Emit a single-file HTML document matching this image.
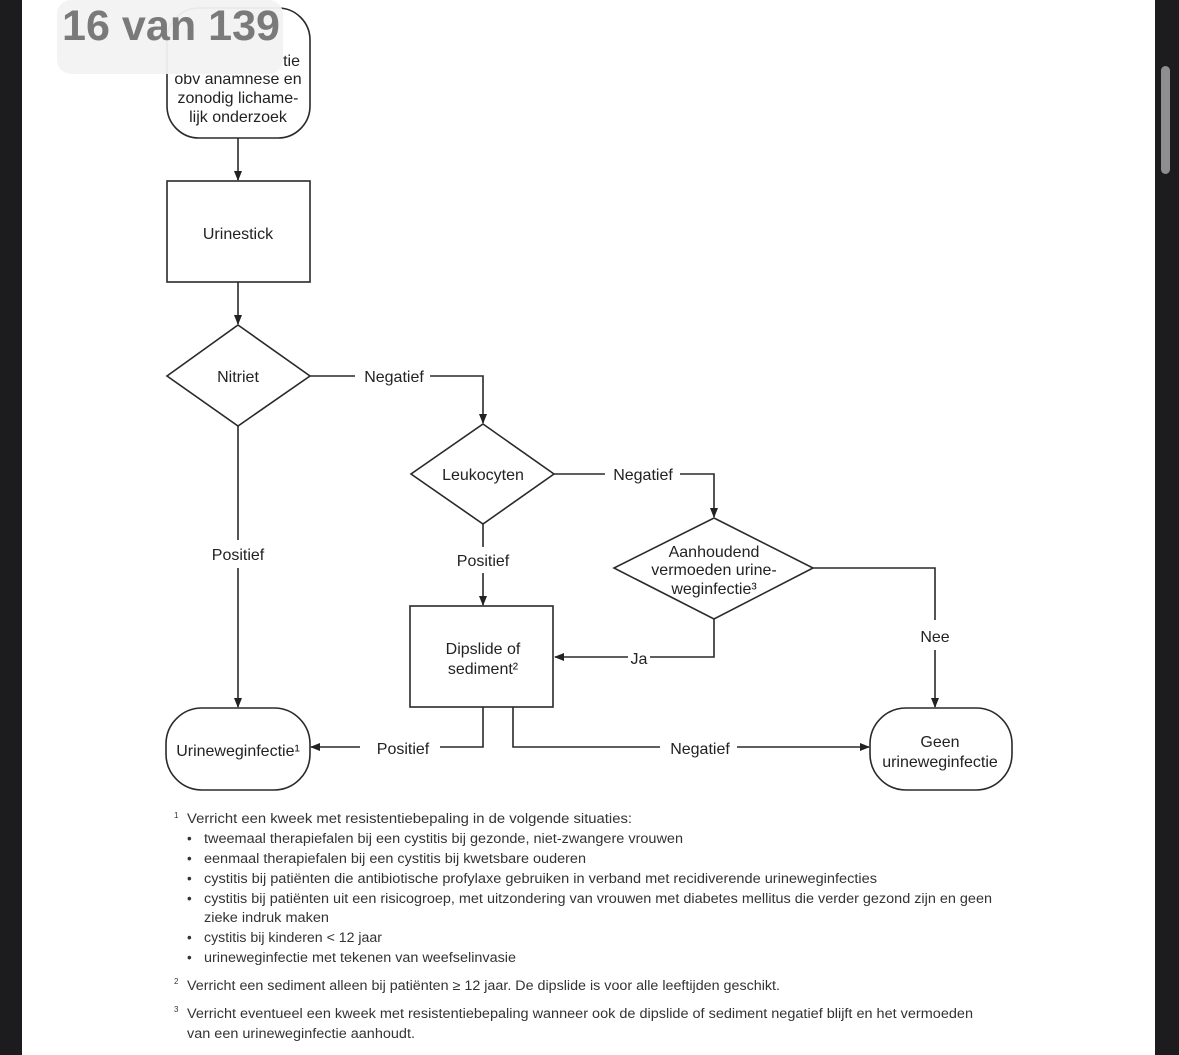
<!DOCTYPE html>
<html><head><meta charset="utf-8"><style>
html,body{margin:0;padding:0;background:#fff;}
svg{display:block;}
text{font-family:"Liberation Sans",sans-serif;}
</style></head><body>
<svg width="1179" height="1055" viewBox="0 0 1179 1055" xmlns="http://www.w3.org/2000/svg">
<defs><marker id="a" markerWidth="10" markerHeight="8" refX="9" refY="4" orient="auto" markerUnits="userSpaceOnUse"><path d="M0,0 L10,4 L0,8 z" fill="#222"/></marker></defs>
<rect width="1179" height="1055" fill="#fff"/>
<rect x="0" y="0" width="22" height="1055" fill="#1c1c1e"/>
<rect x="1155" y="0" width="24" height="1055" fill="#1c1c1e"/>
<rect x="1161" y="66" width="9" height="108" rx="4.5" fill="#8e8e8e"/>
<g stroke="#2a2a2a" stroke-width="1.6" fill="none">
<rect x="167" y="8" width="143" height="130" rx="32"/>
<line x1="238" y1="138" x2="238" y2="180" marker-end="url(#a)"/>
<rect x="167" y="181" width="143" height="101"/>
<line x1="238" y1="282" x2="238" y2="324" marker-end="url(#a)"/>
<polygon points="238,325 310,376 238,426 167,376"/>
<polyline points="310,376 355,376"/>
<polyline points="430,376 483,376 483,423" marker-end="url(#a)"/>
<polygon points="483,424 554,474 483,524 411,474"/>
<polyline points="554,474 605,474"/>
<polyline points="680,474 714,474 714,517" marker-end="url(#a)"/>
<polygon points="714,518 813,568 714,619 614,568"/>
<polyline points="813,568 935,568 935,620"/>
<line x1="935" y1="650" x2="935" y2="707" marker-end="url(#a)"/>
<polyline points="714,619 714,657 650,657"/>
<line x1="628" y1="657" x2="555" y2="657" marker-end="url(#a)"/>
<line x1="483" y1="524" x2="483" y2="547"/>
<line x1="483" y1="573" x2="483" y2="605" marker-end="url(#a)"/>
<rect x="410" y="606" width="143" height="101"/>
<line x1="238" y1="426" x2="238" y2="540"/>
<line x1="238" y1="568" x2="238" y2="707" marker-end="url(#a)"/>
<rect x="166" y="708" width="144" height="82" rx="36"/>
<polyline points="483,707 483,747 440,747"/>
<line x1="360" y1="747" x2="311" y2="747" marker-end="url(#a)"/>
<polyline points="513,707 513,747 660,747"/>
<line x1="737" y1="747" x2="869" y2="747" marker-end="url(#a)"/>
<rect x="870" y="708" width="142" height="82" rx="36"/>
</g>
<g font-size="16" fill="#222" text-anchor="middle">
<text x="300" y="66" text-anchor="end">tie</text>
<text x="238" y="84">obv anamnese en</text>
<text x="238" y="103">zonodig lichame-</text>
<text x="238" y="122">lijk onderzoek</text>
<text x="238" y="239">Urinestick</text>
<text x="238" y="382">Nitriet</text>
<text x="394" y="382">Negatief</text>
<text x="483" y="480">Leukocyten</text>
<text x="643" y="480">Negatief</text>
<text x="714" y="557">Aanhoudend</text>
<text x="714" y="575">vermoeden urine-</text>
<text x="714" y="594">weginfectie³</text>
<text x="935" y="642">Nee</text>
<text x="639" y="664">Ja</text>
<text x="483" y="566">Positief</text>
<text x="483" y="654">Dipslide of</text>
<text x="483" y="674">sediment²</text>
<text x="238" y="560">Positief</text>
<text x="238" y="756">Urineweginfectie¹</text>
<text x="403" y="754">Positief</text>
<text x="700" y="754">Negatief</text>
<text x="940" y="747">Geen</text>
<text x="940" y="767">urineweginfectie</text>
</g>
<g font-size="13.5" fill="#333">
<text x="174" y="818" font-size="8">1</text>
<text x="187" y="823" textLength="445" lengthAdjust="spacingAndGlyphs">Verricht een kweek met resistentiebepaling in de volgende situaties:</text>
<text x="187" y="843">•</text><text x="204" y="843" textLength="479" lengthAdjust="spacingAndGlyphs">tweemaal therapiefalen bij een cystitis bij gezonde, niet-zwangere vrouwen</text>
<text x="187" y="863">•</text><text x="204" y="863" textLength="382" lengthAdjust="spacingAndGlyphs">eenmaal therapiefalen bij een cystitis bij kwetsbare ouderen</text>
<text x="187" y="883">•</text><text x="204" y="883" textLength="673" lengthAdjust="spacingAndGlyphs">cystitis bij patiënten die antibiotische profylaxe gebruiken in verband met recidiverende urineweginfecties</text>
<text x="187" y="903">•</text><text x="204" y="903" textLength="788" lengthAdjust="spacingAndGlyphs">cystitis bij patiënten uit een risicogroep, met uitzondering van vrouwen met diabetes mellitus die verder gezond zijn en geen</text>
<text x="204" y="922" textLength="125" lengthAdjust="spacingAndGlyphs">zieke indruk maken</text>
<text x="187" y="942">•</text><text x="204" y="942" textLength="178" lengthAdjust="spacingAndGlyphs">cystitis bij kinderen &lt; 12 jaar</text>
<text x="187" y="962">•</text><text x="204" y="962" textLength="312" lengthAdjust="spacingAndGlyphs">urineweginfectie met tekenen van weefselinvasie</text>
<text x="174" y="984" font-size="8">2</text>
<text x="187" y="990" textLength="593" lengthAdjust="spacingAndGlyphs">Verricht een sediment alleen bij patiënten ≥ 12 jaar. De dipslide is voor alle leeftijden geschikt.</text>
<text x="174" y="1012" font-size="8">3</text>
<text x="187" y="1018" textLength="786" lengthAdjust="spacingAndGlyphs">Verricht eventueel een kweek met resistentiebepaling wanneer ook de dipslide of sediment negatief blijft en het vermoeden</text>
<text x="187" y="1038" textLength="228" lengthAdjust="spacingAndGlyphs">van een urineweginfectie aanhoudt.</text>
</g>
<rect x="57" y="0" width="226" height="74" rx="14" fill="#f2f2f2" opacity="0.95"/>
<text x="62" y="40" font-size="43" font-weight="bold" fill="#7a7a7a" textLength="218" lengthAdjust="spacingAndGlyphs">16 van 139</text>
</svg>
</body></html>
